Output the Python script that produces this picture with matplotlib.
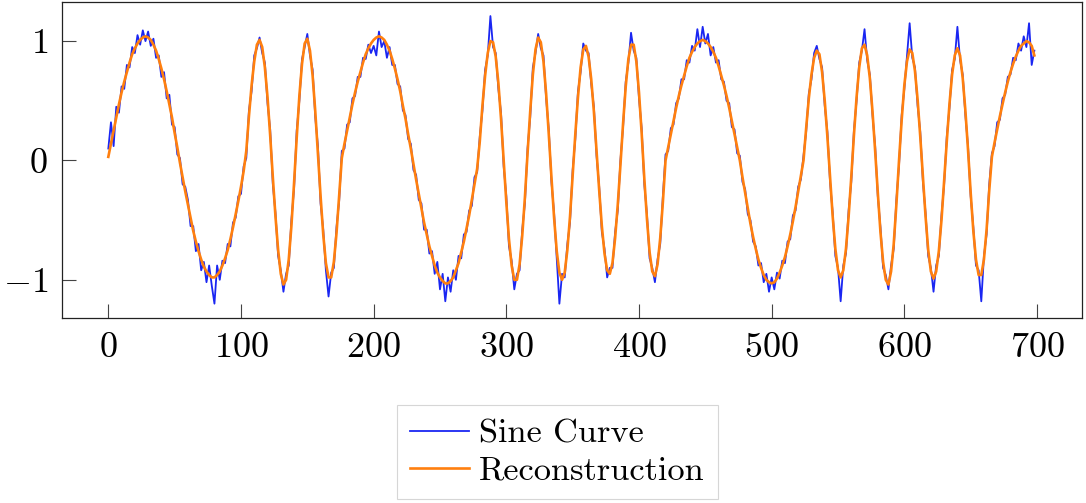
import numpy as np
import matplotlib
matplotlib.use("Agg")
import matplotlib.pyplot as plt

# x positions (every 2 samples)
x_vals = list(range(0, 700, 2))

# Reconstruction values
recon = [
    .03, .14, .25, .36, .47, .57, .66, .74, .82, .89,
    .94, .98, 1.01, 1.03, 1.04, 1.03, 1.01, .97, .92, .85,
    .77, .68, .58, .47, .36, .23, .11, -.02, -.14, -.26,
    -.37, -.48, -.59, -.68, -.76, -.83, -.89, -.93, -.96, -.98,
    -.98, -.96, -.93, -.88, -.82, -.75, -.66, -.56, -.45, -.34,
    -.22, -.09, .08, .37, .63, .83, .97, 1.01, .95, .78,
    .53, .21, -.14, -.47, -.75, -.95, -1.04, -1.00, -.83, -.55,
    -.19, .19, .54, .81, .98, 1.02, .92, .71, .41, .06,
    -.30, -.62, -.86, -.98, -.98, -.85, -.61, -.29, .02, .14,
    .25, .36, .47, .57, .66, .74, .82, .89, .94, .98,
    1.01, 1.03, 1.04, 1.03, 1.01, .97, .92, .85, .77, .68,
    .58, .46, .35, .22, .10, -.03, -.16, -.28, -.40, -.52,
    -.62, -.72, -.80, -.88, -.94, -.98, -1.01, -1.03, -1.03, -1.01,
    -.98, -.92, -.86, -.77, -.68, -.57, -.46, -.33, -.20, -.07,
    .16, .46, .71, .90, 1.00, .99, .87, .65, .35, 0.0,
    -.35, -.66, -.88, -1.00, -1.00, -.87, -.63, -.31, .06, .41,
    .72, .93, 1.03, .99, .83, .56, .22, -.14, -.48, -.76,
    -.94, -1.00, -.94, -.75, -.47, -.13, .22, .53, .78, .93,
    .96, .87, .68, .41, .08, -.25, -.55, -.78, -.92, -.95,
    -.86, -.65, -.37, -.04, .31, .62, .85, .97, .97, .83,
    .57, .23, -.15, -.49, -.77, -.93, -.97, -.87, -.65, -.35,
    0.0, .11, .22, .33, .44, .54, .63, .71, .79, .86,
    .91, .95, .98, 1.00, 1.01, 1.00, .98, .95, .91, .86,
    .79, .71, .63, .54, .44, .33, .22, .11, 0.0, -.14,
    -.27, -.40, -.53, -.64, -.74, -.83, -.90, -.96, -1.00, -1.02,
    -1.03, -1.02, -.99, -.94, -.88, -.81, -.72, -.62, -.51, -.39,
    -.26, -.13, 0.0, .27, .52, .72, .86, .92, .89, .74,
    .50, .20, -.14, -.47, -.74, -.92, -.98, -.92, -.74, -.47,
    -.14, .21, .53, .78, .94, .97, .88, .69, .41, .08,
    -.27, -.60, -.85, -1.00, -1.04, -.93, -.70, -.37, 0.0, .34,
    .63, .83, .93, .90, .75, .51, .20, -.14, -.47, -.75,
    -.93, -.99, -.93, -.76, -.50, -.17, .16, .47, .72, .88,
    .94, .88, .69, .42, .09, -.27, -.59, -.83, -.96, -.96,
    -.83, -.58, -.25, .03, .15, .26, .37, .47, .57, .66,
    .74, .81, .87, .92, .96, .98, 1.00, .99, .96, .88,
]

# Noisy sine curve values
sine = [
    .10, .32, .12, .45, .40, .62, .60, .80, .78, .95,
    .90, 1.05, .97, 1.09, 1.00, 1.08, .96, 1.02, .86, .88,
    .70, .74, .52, .55, .30, .28, .05, .02, -.20, -.22,
    -.33, -.55, -.55, -.76, -.70, -.92, -.85, -1.02, -.88, -1.05,
    -1.20, -.88, -1.00, -.84, -.86, -.70, -.72, -.52, -.48, -.30,
    -.28, -.05, .02, .42, .58, .88, .94, 1.03, .90, .82,
    .48, .26, -.20, -.44, -.80, -.92, -1.10, -.95, -.88, -.50,
    -.24, .25, .50, .85, .95, 1.06, .88, .76, .36, .12,
    -.36, -.58, -.92, -1.14, -.94, -.90, -.56, -.34, .08, .10,
    .30, .32, .52, .54, .70, .70, .86, .85, .97, .90,
    .96, .88, 1.08, .95, 1.00, .86, .95, .80, .80, .64,
    .62, .42, .38, .18, .14, -.08, -.12, -.33, -.36, -.58,
    -.58, -.78, -.76, -.95, -.85, -1.08, -.95, -1.18, -.98, -1.10,
    -.92, -1.00, -.80, -.82, -.62, -.60, -.42, -.38, -.14, -.10,
    .20, .42, .76, .88, 1.21, .95, .90, .60, .40, -.05,
    -.30, -.72, -.84, -1.08, -.95, -.92, -.58, -.36, .10, .36,
    .78, .90, 1.06, .94, .88, .52, .26, -.18, -.44, -.82,
    -1.20, -.95, -.98, -.70, -.52, -.08, .18, .58, .74, .98,
    .92, .90, .64, .45, .04, -.22, -.60, -.74, -.98, -.90,
    -.90, -.60, -.42, .00, .28, .66, .82, 1.07, .92, .86,
    .52, .27, -.20, -.45, -.82, -.90, -1.02, -.83, -.70, -.30,
    .05, .08, .27, .30, .48, .52, .68, .68, .84, .82,
    .96, .92, 1.10, .95, 1.12, .98, 1.06, .88, .95, .82,
    .84, .68, .66, .50, .48, .28, .26, .06, .04, -.18,
    -.24, -.45, -.50, -.68, -.72, -.88, -.86, -1.02, -.95, -1.10,
    -.98, -1.08, -.94, -.99, -.84, -.86, -.68, -.66, -.46, -.42,
    -.22, -.16, .04, .24, .56, .68, .90, .96, .85, .78,
    .46, .24, -.18, -.44, -.80, -.90, -1.18, -.88, -.78, -.42,
    -.18, .25, .50, .82, .92, 1.10, .84, .72, .38, .12,
    -.30, -.56, -.90, -.96, -1.08, -.88, -.74, -.33, -.04, .38,
    .60, .88, 1.15, .86, .78, .46, .24, -.18, -.44, -.80,
    -.90, -1.10, -.88, -.80, -.46, -.20, .20, .44, .76, .85,
    1.12, .84, .72, .38, .12, -.30, -.56, -.88, -.92, -1.18,
    -.80, -.62, -.20, .06, .12, .32, .34, .52, .55, .70,
    .72, .86, .84, .98, .92, 1.04, .95, 1.15, .80, .92,
]

x_ticks = [0, 100, 200, 300, 400, 500, 600, 700]
y_ticks = [-1, 0, 1]
series_labels = ["Sine Curve", "Reconstruction"]

plt.rcParams["mathtext.fontset"] = "cm"
plt.rcParams["font.family"] = ["cmr10", "DejaVu Serif"]
plt.rcParams["axes.unicode_minus"] = False

fig = plt.figure(figsize=(10.86, 5.03), dpi=100)
ax = fig.add_axes([0.0571, 0.3678, 0.9963 - 0.0571, 0.9966 - 0.3678])

ax.plot(x_vals, sine, color="#1a26f2", lw=1.3, label=series_labels[0])
ax.plot(x_vals, recon, color="#ff7f0e", lw=1.9, label=series_labels[1])

ax.set_xlim(-34.9, 733.9)
ax.set_ylim(-1.32, 1.33)
ax.set_xticks(x_ticks)
ax.set_xticklabels([f"${t}$" for t in x_ticks])
ax.set_yticks(y_ticks)
ax.set_yticklabels([f"${t}$" for t in y_ticks])
ax.tick_params(direction="in", length=10, width=0.8, color="#444444",
               labelsize=26, pad=10, top=False, right=False)
for s in ax.spines.values():
    s.set_linewidth(0.9)
    s.set_color("#222222")

leg = fig.legend(loc="upper center", bbox_to_anchor=(0.5134, 0.1948),
                 frameon=True, fancybox=False, edgecolor="#cccccc",
                 prop={"family": "cmr10", "size": 24.7},
                 handlelength=1.7, handletextpad=0.3, labelspacing=0.2,
                 borderpad=0.4, borderaxespad=0)
leg.get_frame().set_linewidth(0.8)

fig.savefig("out.png", dpi=100)
